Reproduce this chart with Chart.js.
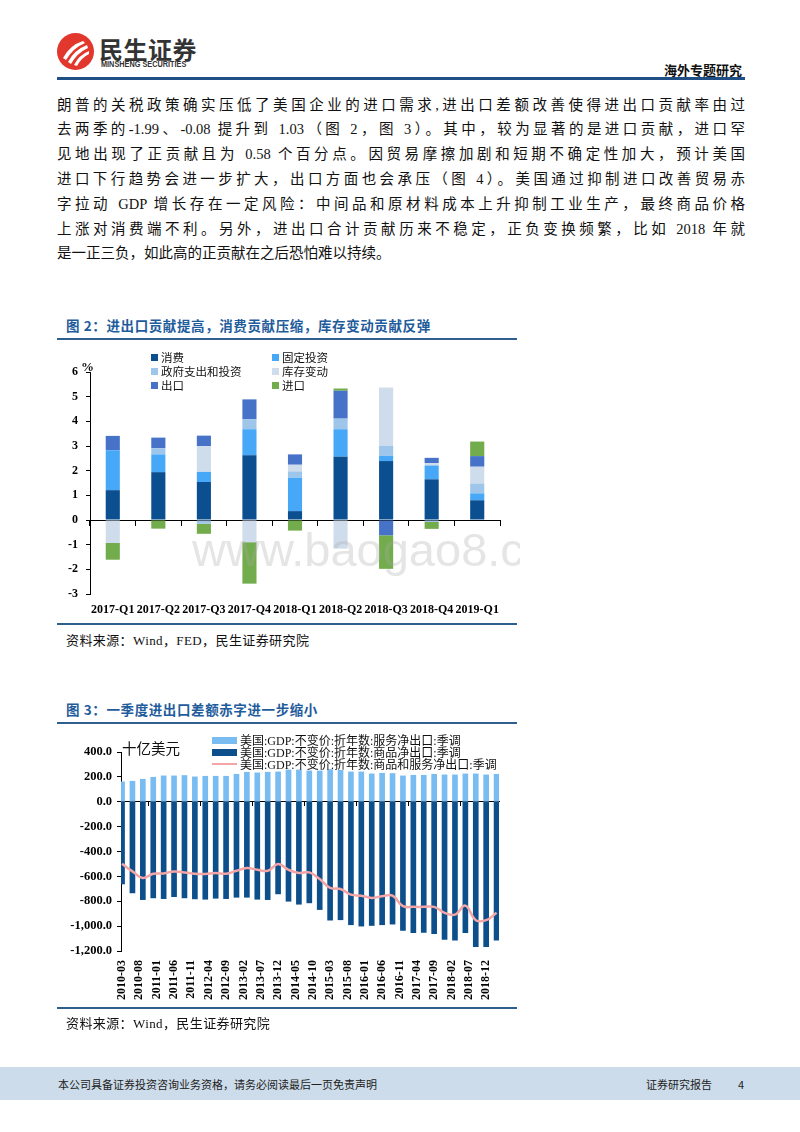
<!DOCTYPE html>
<html lang="zh-CN">
<head>
<meta charset="utf-8">
<script src="https://cdn.jsdelivr.net/npm/chart.js@4.4.1/dist/chart.umd.min.js"></script>
<style>
body { margin: 0; background: #fff; }
#page { position: relative; width: 800px; height: 1132px; overflow: hidden;
        font-family: 'Liberation Serif', 'Noto Sans CJK SC', serif; color: #111; }
.abs { position: absolute; }
.para div { height: 24.8px; line-height: 24.8px; font-size: 14.5px; width: 688px;
            text-align: justify; text-align-last: justify; }
.para div.last { text-align-last: left; }
.title { font-family: 'Noto Sans CJK SC', sans-serif; font-weight: 700; font-size: 13.5px;
         color: #1f5c9c; letter-spacing: 0.6px; }
.rule { height: 2px; background: #2f5f8f; }
.src { font-size: 13px; letter-spacing: 0.4px; }
.leg { font-size: 11.5px; white-space: nowrap; display: flex; align-items: center; }
.leg i { display: inline-block; margin-right: 3px; }
</style>
</head>
<body>
<div id="page">

  <!-- header -->
  <svg class="abs" style="left:56px;top:32px" width="40" height="40" viewBox="0 0 40 40">
    <circle cx="19.5" cy="19.5" r="18.5" fill="#e2372c"/>
    <path d="M7 26 Q14 13 27 9 L29 11 Q17 16 10 28 Z" fill="#fff"/>
    <path d="M12 30 Q18 18 31 13 L32 16 Q21 21 15 32 Z" fill="#fff"/>
    <path d="M18 33 Q23 23 33 19 L33 22 Q25 26 21 34 Z" fill="#fff"/>
  </svg>
  <div class="abs" style="left:99px;top:31px;font-family:'Noto Sans CJK SC';font-weight:700;font-size:24px;color:#333;letter-spacing:0.5px">民生证券</div>
  <div class="abs" style="left:101px;top:59px;font-family:'Liberation Sans';font-weight:700;font-size:8.5px;color:#333;transform:scaleX(0.86);transform-origin:0 0;white-space:nowrap">MINSHENG SECURITIES</div>
  <div class="abs" style="left:664px;top:60px;font-family:'Noto Sans CJK SC';font-weight:700;font-size:13px;color:#111">海外专题研究</div>
  <div class="abs" style="left:57px;top:77px;width:688px;height:2.5px;background:#1f4f85"></div>

  <!-- paragraph -->
  <div class="abs para" style="left:57px;top:92.6px">
    <div>朗普的关税政策确实压低了美国企业的进口需求,进出口差额改善使得进出口贡献率由过</div>
    <div>去两季的-1.99、-0.08 提升到 1.03（图 2，图 3）。其中，较为显著的是进口贡献，进口罕</div>
    <div>见地出现了正贡献且为 0.58 个百分点。因贸易摩擦加剧和短期不确定性加大，预计美国</div>
    <div>进口下行趋势会进一步扩大，出口方面也会承压（图 4）。美国通过抑制进口改善贸易赤</div>
    <div>字拉动 GDP 增长存在一定风险：中间品和原材料成本上升抑制工业生产，最终商品价格</div>
    <div>上涨对消费端不利。另外，进出口合计贡献历来不稳定，正负变换频繁，比如 2018 年就</div>
    <div class="last">是一正三负，如此高的正贡献在之后恐怕难以持续。</div>
  </div>

  <!-- figure 2 -->
  <div class="abs title" style="left:66px;top:315px">图 2：进出口贡献提高，消费贡献压缩，库存变动贡献反弹</div>
  <div class="abs rule" style="left:57px;top:337.5px;width:460px"></div>
  <div class="abs" id="box1" style="left:57px;top:340px;width:463px;height:282px;overflow:hidden">
    <canvas id="c1"></canvas>
    <div class="abs" style="left:135px;top:186px;font-family:'Liberation Sans';font-size:47px;line-height:47px;color:rgba(170,170,170,0.3);white-space:nowrap">www.baogao8.com</div>
  </div>
  <div class="abs" style="left:81px;top:359px;font-family:'Liberation Serif';font-weight:700;font-size:13px">%</div>
  <div id="legend1"></div>
  <div class="abs rule" style="left:57px;top:622.5px;width:460px"></div>
  <div class="abs src" style="left:66px;top:630px">资料来源：Wind，FED，民生证券研究院</div>

  <!-- figure 3 -->
  <div class="abs title" style="left:66px;top:699px">图 3：一季度进出口差额赤字进一步缩小</div>
  <div class="abs rule" style="left:57px;top:721.5px;width:460px"></div>
  <div class="abs" style="left:57px;top:725px;width:460px;height:283px">
    <canvas id="c2"></canvas>
  </div>
  <div class="abs" style="left:122px;top:738px;font-family:'Noto Sans CJK SC';font-size:14.5px;line-height:20px">十亿美元</div>
  <div id="legend2"></div>
  <div class="abs rule" style="left:57px;top:1007px;width:460px"></div>
  <div class="abs src" style="left:66px;top:1013px">资料来源：Wind，民生证券研究院</div>

  <!-- footer -->
  <div class="abs" style="left:0;top:1067px;width:800px;height:33px;background:#cddcea"></div>
  <div class="abs" style="left:58px;top:1076px;font-family:'Noto Sans CJK SC';font-size:11px;color:#222">本公司具备证券投资咨询业务资格，请务必阅读最后一页免责声明</div>
  <div class="abs" style="left:646px;top:1076px;font-family:'Noto Sans CJK SC';font-size:11px;color:#222">证券研究报告</div>
  <div class="abs" style="left:738px;top:1076px;font-family:'Noto Sans CJK SC';font-size:11px;color:#222">4</div>
</div>

<script>
// ---- figure 2 data: contributions to real GDP growth (%)
const quarters = ['2017-Q1', '2017-Q2', '2017-Q3', '2017-Q4', '2018-Q1', '2018-Q2', '2018-Q3', '2018-Q4', '2019-Q1'];
const consumption = [1.21, 1.94, 1.54, 2.62, 0.36, 2.57, 2.39, 1.65, 0.80];
const fixedInvest = [1.62, 0.72, 0.41, 1.06, 1.35, 1.11, 0.21, 0.56, 0.28];
const government  = [0.00, 0.25, -0.15, 0.41, 0.26, 0.43, 0.40, -0.08, 0.40];
const inventory   = [-0.93, 0.00, 1.05, -0.90, 0.27, -1.16, 2.37, 0.10, 0.68];
const exportsC    = [0.58, 0.43, 0.42, 0.80, 0.42, 1.13, -0.62, 0.21, 0.43];
const importsC    = [-0.68, -0.35, -0.41, -1.68, -0.43, 0.09, -1.36, -0.28, 0.59];
const yTicks1 = [-3, -2, -1, 0, 1, 2, 3, 4, 5, 6];

// ---- figure 3 data: net exports, billion USD
const quarterDates = ['2010-03', '2010-06', '2010-09', '2010-12', '2011-03', '2011-06', '2011-09', '2011-12',
  '2012-03', '2012-06', '2012-09', '2012-12', '2013-03', '2013-06', '2013-09', '2013-12',
  '2014-03', '2014-06', '2014-09', '2014-12', '2015-03', '2015-06', '2015-09', '2015-12',
  '2016-03', '2016-06', '2016-09', '2016-12', '2017-03', '2017-06', '2017-09', '2017-12',
  '2018-03', '2018-06', '2018-09', '2018-12', '2019-03'];
const services = [160, 165, 181, 197, 208, 208, 211, 200, 205, 205, 205, 221, 237, 232, 237, 240,
  256, 256, 248, 248, 259, 253, 240, 240, 224, 229, 227, 208, 213, 213, 221, 216, 216, 224, 224, 216, 221];
const goods = [-661, -733, -787, -773, -779, -763, -773, -781, -784, -776, -779, -768, -768, -784, -787, -741,
  -800, -824, -813, -867, -952, -949, -989, -1000, -995, -989, -984, -1035, -1053, -1051, -1061, -1107,
  -1112, -1053, -1165, -1165, -1112];
const netTotal = [-499, -560, -613, -579, -576, -560, -568, -579, -581, -573, -579, -555, -533, -547, -555, -501,
  -547, -573, -568, -621, -693, -701, -747, -755, -773, -760, -755, -840, -845, -845, -845, -893,
  -907, -835, -952, -952, -893];
const tickLabels2 = ['2010-03', '2010-08', '2011-01', '2011-06', '2011-11', '2012-04', '2012-09', '2013-02',
  '2013-07', '2013-12', '2014-05', '2014-10', '2015-03', '2015-08', '2016-01', '2016-06', '2016-11',
  '2017-04', '2017-09', '2018-02', '2018-07', '2018-12'];

const serif = "'Liberation Serif', 'Times New Roman', serif";
const tickFont = { family: serif, size: 12, weight: 'bold' };

// months since 2010-03, used as the x value of the date axis
function monthIndex(s) {
  const [y, m] = s.split('-').map(Number);
  return (y - 2010) * 12 + (m - 3);
}

function legendItem(parent, left, top, label, swatch, size) {
  const d = document.createElement('div');
  d.className = 'abs leg';
  d.style.left = left + 'px';
  d.style.top = top + 'px';
  d.style.height = '14px';
  if (size) d.style.fontSize = size;
  const i = document.createElement('i');
  Object.assign(i.style, swatch);
  d.appendChild(i);
  d.appendChild(document.createTextNode(label));
  parent.appendChild(d);
}

// ---------------- chart 1 ----------------
const series1 = [
  { label: '消费', data: consumption, color: '#0b4f91' },
  { label: '固定投资', data: fixedInvest, color: '#48a8f8' },
  { label: '政府支出和投资', data: government, color: '#9ec5ea' },
  { label: '库存变动', data: inventory, color: '#cfdcec' },
  { label: '出口', data: exportsC, color: '#4673c8' },
  { label: '进口', data: importsC, color: '#72ac4d' }
];

const leg1 = document.getElementById('legend1');
series1.forEach((s, k) => {
  legendItem(leg1, k % 2 ? 272 : 151, 350 + Math.floor(k / 2) * 14, s.label,
    { width: '7px', height: '7px', background: s.color });
});

new Chart(document.getElementById('c1'), {
  type: 'bar',
  data: {
    labels: quarters,
    datasets: series1.map(s => ({
      label: s.label, data: s.data, backgroundColor: s.color,
      borderWidth: 0, categoryPercentage: 1, barPercentage: 0.31
    }))
  },
  options: {
    responsive: true, maintainAspectRatio: false, animation: false,
    layout: { padding: { top: 32, right: 20, left: 0, bottom: 0 } },
    plugins: { legend: { display: false }, tooltip: { enabled: false } },
    scales: {
      x: {
        stacked: true,
        grid: { display: false }, border: { display: false },
        ticks: { font: tickFont, color: '#000', maxRotation: 0, autoSkip: false, padding: 1 },
        afterFit: s => { s.height = 28; }
      },
      x0: {
        type: 'category', position: { y: 0 }, offset: true,
        grid: { offset: true, drawOnChartArea: false, tickLength: 5, color: '#000' },
        border: { color: '#000', width: 1 },
        ticks: { display: false }
      },
      y: {
        stacked: true, min: -3, max: 6,
        afterBuildTicks: s => { s.ticks = yTicks1.map(v => ({ value: v })); },
        grid: { drawOnChartArea: false, tickLength: 4, color: '#000' },
        border: { color: '#000', width: 1 },
        ticks: { font: tickFont, color: '#000', padding: 8 },
        afterFit: s => { s.width = 33; }
      }
    }
  }
});

// ---------------- chart 2 ----------------
const xy = vals => vals.map((v, i) => ({ x: monthIndex(quarterDates[i]), y: v }));
const tickMonths = tickLabels2.map(monthIndex);
const labelOf = {};
tickLabels2.forEach(l => { labelOf[monthIndex(l)] = l; });

const leg2 = document.getElementById('legend2');
legendItem(leg2, 212, 733, '美国:GDP:不变价:折年数:服务净出口:季调',
  { width: '25px', height: '7px', background: '#79bcf2' }, '12px');
legendItem(leg2, 212, 745, '美国:GDP:不变价:折年数:商品净出口:季调',
  { width: '25px', height: '7px', background: '#0d4f8b' }, '12px');
legendItem(leg2, 212, 757, '美国:GDP:不变价:折年数:商品和服务净出口:季调',
  { width: '25px', height: '2px', background: '#f4a5a5' }, '12px');

new Chart(document.getElementById('c2'), {
  type: 'bar',
  data: {
    datasets: [
      { type: 'line', label: '商品和服务净出口', data: xy(netTotal), borderColor: '#f4a5a5',
        borderWidth: 2.5, pointRadius: 0, tension: 0.4, order: 0 },
      { label: '服务净出口', data: xy(services), backgroundColor: '#79bcf2',
        barThickness: 5, grouped: false, order: 1 },
      { label: '商品净出口', data: xy(goods), backgroundColor: '#0d4f8b',
        barThickness: 5, grouped: false, order: 1 }
    ]
  },
  options: {
    responsive: true, maintainAspectRatio: false, animation: false,
    layout: { padding: { top: 27, right: 18, left: 0, bottom: 0 } },
    plugins: { legend: { display: false }, tooltip: { enabled: false } },
    scales: {
      x: {
        type: 'linear', min: -0.3, max: 108.7, offset: false,
        afterBuildTicks: s => { s.ticks = tickMonths.map(v => ({ value: v })); },
        grid: { display: false }, border: { display: false },
        ticks: { font: tickFont, color: '#000', minRotation: 90, maxRotation: 90,
                 autoSkip: false, padding: 1, callback: v => labelOf[v] || '' },
        afterFit: s => { s.height = 57; }
      },
      x0: {
        type: 'linear', position: { y: 0 }, min: -0.3, max: 108.7, offset: false,
        afterBuildTicks: s => { s.ticks = tickMonths.map(v => ({ value: v })); },
        grid: { drawOnChartArea: false, tickLength: 4, color: '#000' },
        border: { color: '#000', width: 1 },
        ticks: { display: false }
      },
      y: {
        min: -1200, max: 400,
        ticks: { stepSize: 200, font: { family: serif, size: 12.5, weight: 'bold' }, color: '#000', padding: 5,
                 callback: v => v.toLocaleString('en-US', { minimumFractionDigits: 1, maximumFractionDigits: 1 }) },
        grid: { drawOnChartArea: false, tickLength: 4, color: '#000' },
        border: { color: '#000', width: 1 },
        afterFit: s => { s.width = 64; }
      }
    }
  }
});
</script>
</body>
</html>
